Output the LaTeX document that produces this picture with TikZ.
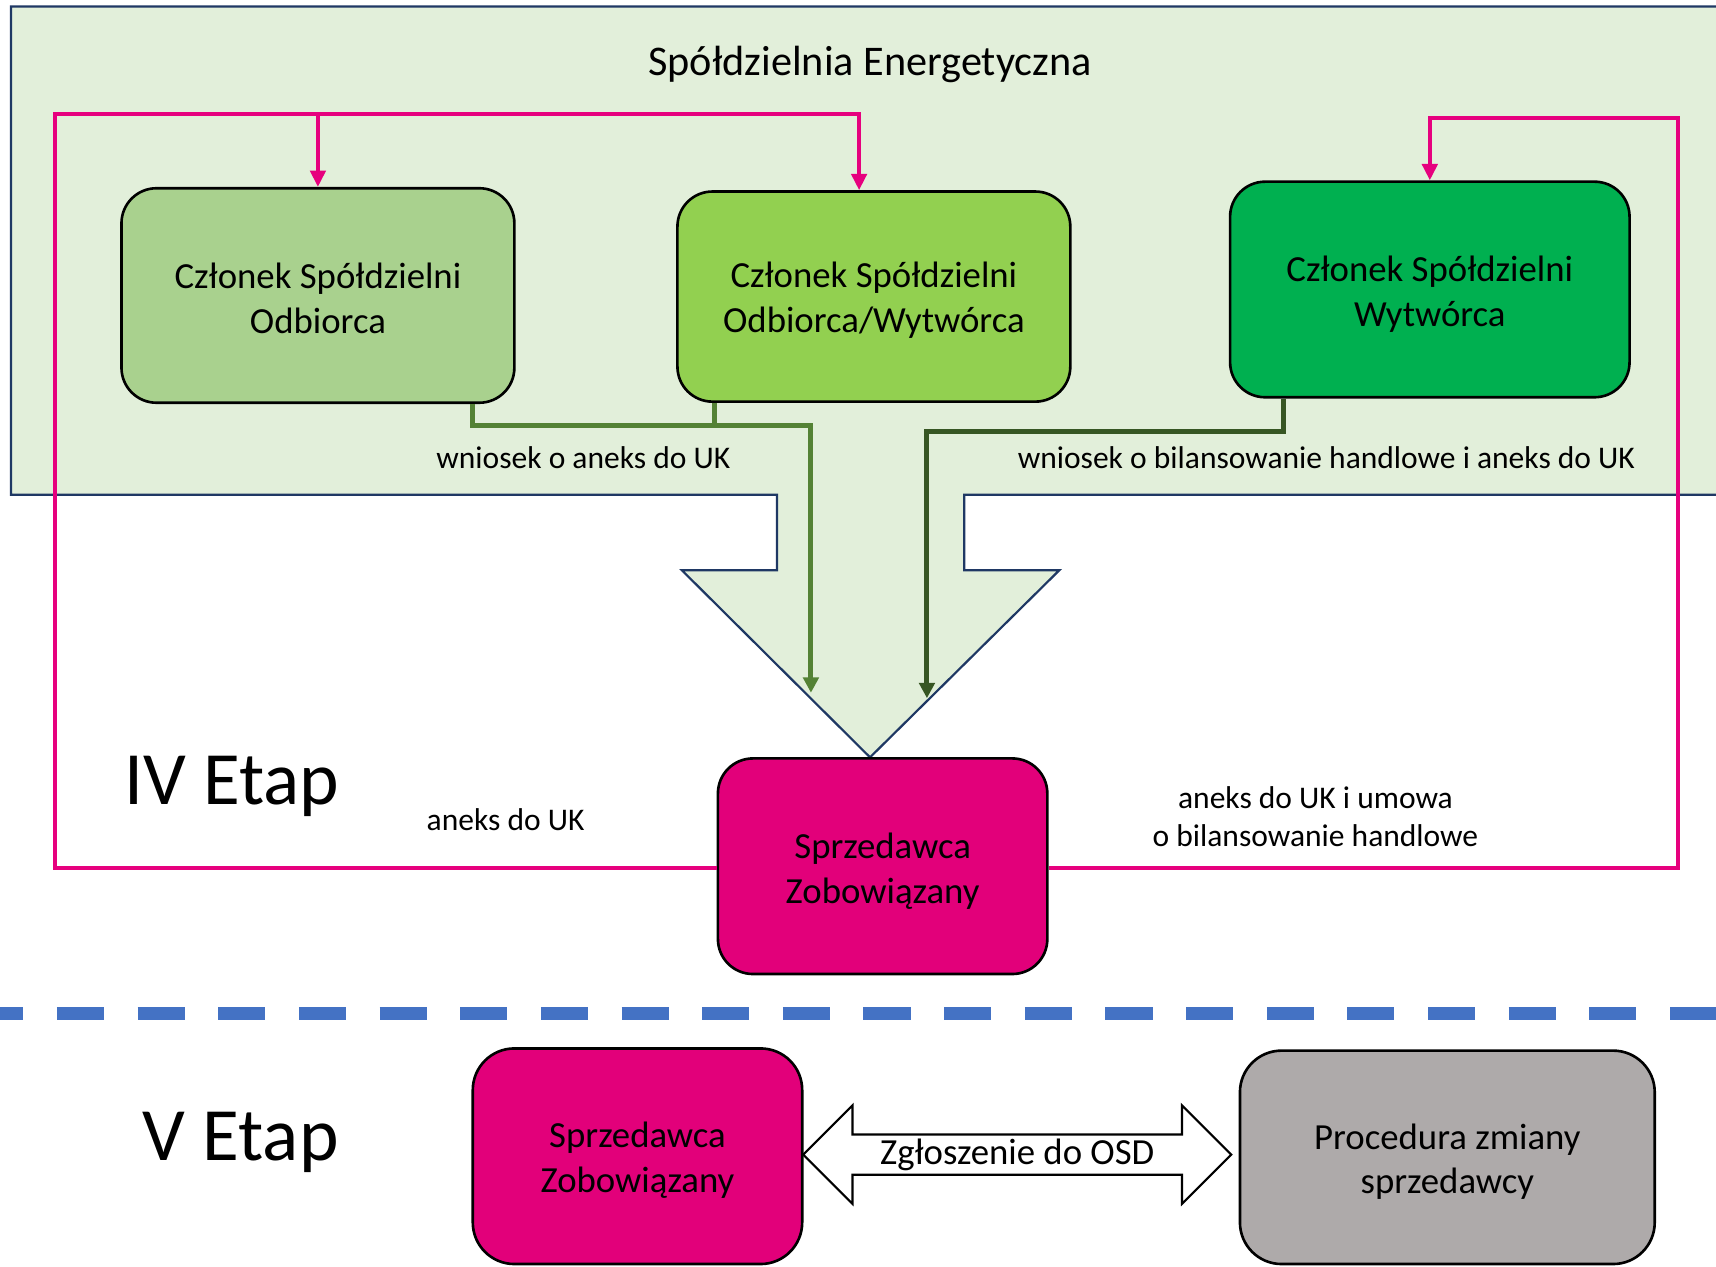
\documentclass[tikz,border=0pt]{standalone}
\usepackage{fontspec}
\setmainfont{Carlito}
\usetikzlibrary{arrows.meta,shapes.arrows,calc}
\definecolor{bgGreen}{HTML}{E2EFDA}
\definecolor{navy}{HTML}{1F3864}
\definecolor{pinkc}{HTML}{E6007E}
\definecolor{magbox}{HTML}{E2007A}
\definecolor{boxA}{HTML}{A9D18E}
\definecolor{boxB}{HTML}{92D050}
\definecolor{boxC}{HTML}{00B050}
\definecolor{grayc}{HTML}{AEAAAA}
\definecolor{greenA}{HTML}{548235}
\definecolor{greenB}{HTML}{375623}
\definecolor{dashblue}{HTML}{4472C4}
\begin{document}
\begin{tikzpicture}[x=0.5pt,y=-0.5pt,
  boxstyle/.style={draw=black, line width=1.2pt, rounded corners=16pt, inner sep=0pt},
  boxtxt/.style={align=center, font=\fontsize{16.8}{20.5}\selectfont, inner sep=0pt},
  pinkln/.style={draw=pinkc, line width=1.8pt},
  pinktip/.style={-{Triangle[length=7.5pt,width=7pt]}},
  greentip/.style={-{Triangle[length=7pt,width=7pt]}},
  greenln/.style={draw=greenA, line width=2.3pt},
  greenln2/.style={draw=greenB, line width=2.3pt},
  lbl/.style={font=\fontsize{14.4}{17.5}\selectfont, align=center, inner sep=0pt},
  etap/.style={font=\fontsize{34.4}{40}\selectfont, inner sep=0pt}
]
\useasboundingbox (0,0) rectangle (1568,1157);
\clip (0,0) rectangle (1568,1157);

% container with merged arrow
\draw[fill=bgGreen, draw=navy, line width=1pt]
  (10,6) -- (1600,6) -- (1600,452) -- (881,452) -- (881,521) -- (968,521)
  -- (795,692) -- (623,521) -- (710,521) -- (710,452) -- (10,452) -- cycle;
\node[font=\fontsize{19.3}{23}\selectfont, inner sep=0pt] (title) at (795,59) {Spółdzielnia Energetyczna};

% boxes
\node[boxstyle, fill=boxA, minimum width=179.5pt, minimum height=98pt] (b1) at (290.5,270) {};
\node[boxstyle, fill=boxB, minimum width=179.5pt, minimum height=96pt] (b2) at (798.5,271) {};
\node[boxstyle, fill=boxC, minimum width=182.5pt, minimum height=98.5pt] (b3) at (1306.5,264.5) {};
\node[boxstyle, fill=magbox, minimum width=150.5pt, minimum height=98.5pt] (s4) at (806.5,791.5) {};
\node[boxstyle, fill=magbox, minimum width=150.5pt, minimum height=98.5pt, rounded corners=19pt] (s5) at (582.5,1056.5) {};
\node[boxstyle, fill=grayc, minimum width=189.5pt, minimum height=97.5pt, rounded corners=19pt] (pz) at (1322.5,1057.5) {};
\node[boxtxt] (b1t) at ([yshift=-1.2pt]b1.center) {Członek Spółdzielni\\Odbiorca};
\node[boxtxt] (b2t) at ([yshift=-1.5pt]b2.center) {Członek Spółdzielni\\Odbiorca/Wytwórca};
\node[boxtxt] (b3t) at ([yshift=-2pt]b3.center) {Członek Spółdzielni\\Wytwórca};
\node[boxtxt] (s4t) at ([yshift=-2.2pt]s4.center) {Sprzedawca\\Zobowiązany};
\node[boxtxt] (s5t) at ([yshift=-2pt]s5.center) {Sprzedawca\\Zobowiązany};
\node[boxtxt] (pzt) at ([yshift=-2pt]pz.center) {Procedura zmiany\\sprzedawcy};

% pink connectors
\coordinate (L1) at (50,104);
\coordinate (R1) at (1533,108);
\draw[pinkln, pinktip] ([yshift=-0.8pt]s4.west) -| (L1) -| ([xshift=-6.75pt]b2.north);
\draw[pinkln, pinktip] (b1.north |- L1) -- (b1.north);
\draw[pinkln, pinktip] ([yshift=-1pt]s4.east) -| (R1) -| (b3.north);

% green connectors
\coordinate (G1) at (741,389);
\coordinate (G1e) at (741,633);
\coordinate (G2) at (847,394);
\coordinate (G2e) at (847,638);
\draw[greenln, greentip] ([xshift=70.75pt]b1.south) |- (G1) -- (G1e);
\draw[greenln] ([xshift=-72.75pt]b2.south) -- ([xshift=-72.75pt]b2.south |- G1);
\draw[greenln2, greentip] ([xshift=-66.75pt]b3.south) |- (G2) -- (G2e);

% labels
\node[lbl] (l1) at (533,418) {wniosek o aneks do UK};
\node[lbl] (l2) at (1212,418) {wniosek o bilansowanie handlowe i aneks do UK};
\node[lbl] (l3) at (462,749) {aneks do UK};
\node[lbl] (l4) at (1202,746.5) {aneks do UK i umowa\\o bilansowanie handlowe};
\node[etap] (e4) at (212,719) {IV Etap};
\node[etap] (e5) at (220,1044) {V Etap};

% dashed separator
\draw[dashblue, line width=5.75pt, dash pattern=on 21.5pt off 15.35pt] (-21.7,926) -- (1620,926);

% double arrow
\node[double arrow, draw=black, fill=white, line width=1pt, minimum width=45pt, minimum height=195.5pt,
  double arrow head extend=11.25pt, inner sep=0pt, font=\fontsize{16.8}{20.5}\selectfont] (da) at (929.5,1055) {Zgłoszenie do OSD};
\end{tikzpicture}
\end{document}
